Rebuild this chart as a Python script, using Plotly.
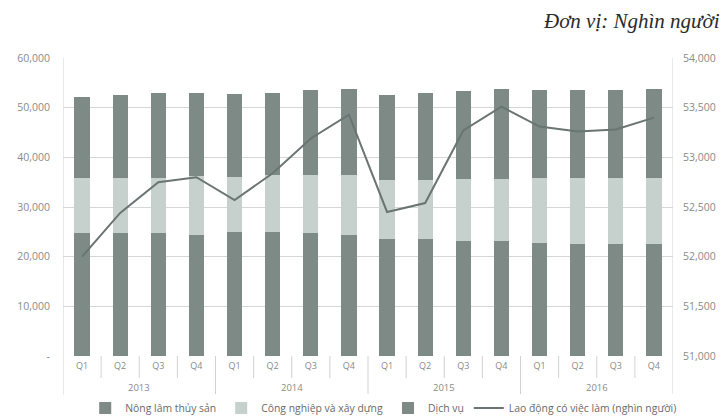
import plotly.graph_objects as go

# Quarterly employment by sector (thousand people), 2013-2016
year_names = ["2013", "2014", "2015", "2016"]
quarters = ["Q1", "Q2", "Q3", "Q4"] * 4

nong_lam = [24740, 24740, 24740, 24400, 25060, 25060, 24860, 24400,
            23600, 23600, 23060, 23060, 22740, 22600, 22600, 22600]
cong_nghiep = [11120, 11120, 11000, 11800, 11000, 11480, 11540, 12000,
               11800, 11800, 12540, 12540, 13000, 13140, 13140, 13140]
dich_vu = [16340, 16680, 17260, 16800, 16740, 16460, 17140, 17260,
           17200, 17460, 17740, 18200, 17800, 17800, 17800, 17920]

# Employed labour (thousand people), right axis
lao_dong = [52000, 52440, 52750, 52800, 52570, 52840, 53190, 53430,
            52450, 52540, 53270, 53510, 53310, 53260, 53280, 53400]

left_ticks = [0, 10000, 20000, 30000, 40000, 50000, 60000]
left_labels = ["-", "10,000", "20,000", "30,000", "40,000", "50,000", "60,000"]
right_ticks = [51000, 51500, 52000, 52500, 53000, 53500, 54000]
right_labels = ["51,000", "51,500", "52,000", "52,500", "53,000", "53,500", "54,000"]

idx = list(range(len(quarters)))

dark = "#7d8a85"
light = "#c6d0cc"
line_col = "#6a7573"
text_col = "#8a8a8a"
rule_col = "#d2d2d2"

fig = go.Figure()
fig.add_trace(go.Bar(x=idx, y=nong_lam, name="Nông lâm thủy sản", width=0.4,
                     marker=dict(color=dark, line=dict(width=0))))
fig.add_trace(go.Bar(x=idx, y=cong_nghiep, name="Công nghiệp và xây dựng", width=0.4,
                     marker=dict(color=light, line=dict(width=0))))
fig.add_trace(go.Bar(x=idx, y=dich_vu, name="Dịch vụ", width=0.4,
                     marker=dict(color=dark, line=dict(width=0))))
fig.add_trace(go.Scatter(x=idx, y=lao_dong, name="Lao động có việc làm (nghìn người)",
                         mode="lines", line=dict(color=line_col, width=2),
                         yaxis="y2"))

# Year group labels under the quarter labels
for g, yr in enumerate(year_names):
    fig.add_annotation(text=yr, x=g * 4 + 1.5, xref="x", y=-0.107, yref="paper",
                       showarrow=False, yanchor="middle",
                       font=dict(size=9.5, color=text_col))

# Separators between quarters and between years
for k in range(len(quarters) + 1):
    xb = k - 0.5
    if k % 4 == 0:
        y_top = 1 if k in (0, len(quarters)) else 0
        fig.add_shape(type="line", x0=xb, x1=xb, xref="x", y0=-0.131, y1=y_top,
                      yref="paper", line=dict(color=rule_col, width=1), layer="below")
    else:
        fig.add_shape(type="line", x0=xb, x1=xb, xref="x", y0=-0.074, y1=0,
                      yref="paper", line=dict(color=rule_col, width=1), layer="below")

fig.update_layout(
    width=724, height=416,
    margin=dict(l=63, r=51, t=58, b=60),
    paper_bgcolor="white", plot_bgcolor="white",
    barmode="stack",
    font=dict(family="Open Sans, sans-serif", size=9, color=text_col),
    xaxis=dict(range=[-0.5, 15.5], tickvals=idx, ticktext=quarters,
               automargin=False, showgrid=False, zeroline=False,
               showline=False, ticks="", ticklabelstandoff=3,
               tickfont=dict(size=9, color=text_col)),
    yaxis=dict(range=[0, 60000], tickvals=left_ticks, ticktext=left_labels,
               automargin=False, showgrid=True, gridcolor="#d6d6d6", gridwidth=1,
               zeroline=False, showline=False, ticks="",
               ticklabelstandoff=12,
               tickfont=dict(size=10.5, color=text_col)),
    yaxis2=dict(range=[51000, 54000], tickvals=right_ticks, ticktext=right_labels,
                automargin=False, overlaying="y", side="right", showgrid=False,
                zeroline=False, showline=False, ticks="",
                ticklabelstandoff=9,
                tickfont=dict(size=10.5, color=text_col)),
    legend=dict(orientation="h", xref="container", x=0.53, xanchor="center",
                yref="container", y=0.019, yanchor="middle",
                font=dict(size=10.4, color="#6a6a6a"),
                itemwidth=30, tracegroupgap=0, traceorder="normal"),
)
fig.add_annotation(text="<i>Đơn vị: Nghìn người</i>", xref="paper", yref="paper",
                   x=1.08, y=1.125, xanchor="right", yanchor="middle",
                   showarrow=False,
                   font=dict(family="Liberation Serif, serif", size=21, color="#2a2a2a"))

fig.write_html("out.html")
